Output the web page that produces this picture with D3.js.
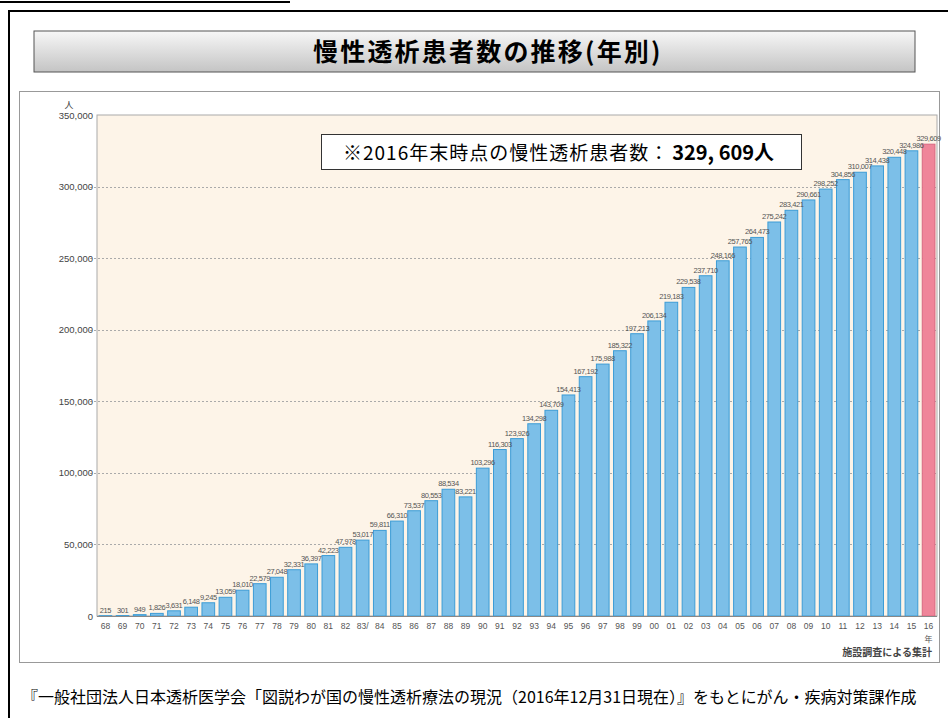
<!DOCTYPE html>
<html><head><meta charset="utf-8">
<script src="https://cdn.jsdelivr.net/npm/d3@7/dist/d3.min.js"></script>
<style>
html,body{margin:0;padding:0;background:#fff;}
svg{display:block;}
</style></head>
<body>
<script>
const years = ["68","69","70","71","72","73","74","75","76","77","78","79","80","81","82","83/","84","85","86","87","88","89","90","91","92","93","94","95","96","97","98","99","00","01","02","03","04","05","06","07","08","09","10","11","12","13","14","15","16"];
const patients = [215,301,949,1826,3631,6148,9245,13059,18010,22579,27048,32331,36397,42223,47978,53017,59811,66310,73537,80553,88534,83221,103296,116303,123926,134298,143709,154413,167192,175988,185322,197213,206134,219183,229538,237710,248166,257765,264473,275242,283421,290661,298252,304856,310007,314438,320448,324986,329609];
const yTicks = [0,50000,100000,150000,200000,250000,300000,350000];
const gridTicks = [50000,100000,150000,200000,250000,300000];
const titleText = "慢性透析患者数の推移(年別)";
const noteText = "※2016年末時点の慢性透析患者数：";
const noteBold = "329, 609人";
const unitText = "人";
const yearUnit = "年";
const sourceText = "施設調査による集計";
const footerText = "『一般社団法人日本透析医学会「図説わが国の慢性透析療法の現況（2016年12月31日現在）』をもとにがん・疾病対策課作成";

const W = 948, H = 718;
const svg = d3.select("body").append("svg").attr("width", W).attr("height", H);
const jp = "'Noto Sans CJK JP','Noto Sans',sans-serif";
const num = "'Liberation Sans',Arial,sans-serif";

const defs = svg.append("defs");
const g1 = defs.append("linearGradient").attr("id","tg").attr("x1",0).attr("y1",0).attr("x2",0).attr("y2",1);
g1.append("stop").attr("offset","0%").attr("stop-color","#f7f7f7");
g1.append("stop").attr("offset","100%").attr("stop-color","#c4c4c4");

// top-left line
svg.append("line").attr("x1",0).attr("x2",290).attr("y1",2).attr("y2",2).attr("stroke","#000").attr("stroke-width",2);
// outer frame
svg.append("rect").attr("x",9).attr("y",11).attr("width",W+20).attr("height",H+20)
  .attr("fill","none").attr("stroke","#000").attr("stroke-width",2);

// title box
svg.append("rect").attr("x",34).attr("y",31).attr("width",881).attr("height",41)
  .attr("fill","url(#tg)").attr("stroke","#555").attr("stroke-width",1);
svg.append("text").attr("x",313).attr("y",61).attr("font-family",jp).attr("font-weight","bold")
  .attr("font-size",25).attr("letter-spacing",2.2).attr("fill","#000").text(titleText);

// panel
svg.append("rect").attr("x",19.5).attr("y",91.5).attr("width",920).attr("height",571)
  .attr("fill","#fff").attr("stroke","#999").attr("stroke-width",1);

const x = d3.scaleBand().domain(years).range([97,937]).paddingInner(0.26).paddingOuter(0.12);
const y = d3.scaleLinear().domain([0,350000]).range([616,115]);

// plot area
svg.append("rect").attr("x",97).attr("y",y(350000)).attr("width",840).attr("height",y(0)-y(350000))
  .attr("fill","#fdf4e8").attr("stroke","#aaa").attr("stroke-width",1);

// grid
svg.append("g").selectAll("line").data(gridTicks).join("line")
  .attr("x1",90).attr("x2",937).attr("y1",d=>Math.round(y(d))+0.5).attr("y2",d=>Math.round(y(d))+0.5)
  .attr("stroke","#aaa").attr("stroke-width",1).attr("stroke-dasharray","2,2");

// y axis
const ya = svg.append("g").attr("transform","translate(93,0)")
  .call(d3.axisLeft(y).tickValues(yTicks).tickSize(0).tickPadding(0).tickFormat(d3.format(",")));
ya.select(".domain").remove();
ya.selectAll("text").attr("font-family",num).attr("font-size",9.5).attr("fill","#444");
svg.append("text").attr("x",69).attr("y",108).attr("font-family",jp).attr("font-size",9).attr("fill","#444").attr("text-anchor","middle").text(unitText);

// bars
svg.append("g").selectAll("rect").data(patients).join("rect")
  .attr("x",(d,i)=>x(years[i])).attr("width",x.bandwidth())
  .attr("y",d=>y(d)).attr("height",d=>y(0)-y(d))
  .attr("fill",(d,i)=>i===patients.length-1?"#ef8599":"#7cbfe8")
  .attr("stroke",(d,i)=>i===patients.length-1?"#d86881":"#3c9cd6").attr("stroke-width",1);

// bar labels
svg.append("g").selectAll("text").data(patients).join("text")
  .attr("x",(d,i)=>x(years[i])+x.bandwidth()/2).attr("y",d=>y(d)-3)
  .attr("text-anchor","middle").attr("font-family",num).attr("font-size",7.5).attr("fill","#555")
  .attr("letter-spacing",-0.4)
  .text(d=>d3.format(",")(d));

// x axis line
svg.append("line").attr("x1",97).attr("x2",937).attr("y1",616.5).attr("y2",616.5).attr("stroke","#888");
const xa = svg.append("g").attr("transform","translate(0,617)")
  .call(d3.axisBottom(x).tickSize(0).tickPadding(6));
xa.select(".domain").remove();
xa.selectAll("text").attr("font-family",num).attr("font-size",8.5).attr("fill","#555");
svg.append("text").attr("x",x("16")+x.bandwidth()/2).attr("y",642).attr("text-anchor","middle")
  .attr("font-family",jp).attr("font-size",8).attr("fill","#555").text(yearUnit);
svg.append("text").attr("x",932).attr("y",656).attr("text-anchor","end")
  .attr("font-family",jp).attr("font-weight","bold").attr("font-size",10).attr("fill","#444").text(sourceText);

// note box
svg.append("rect").attr("x",321.5).attr("y",134.5).attr("width",480).attr("height",35)
  .attr("fill","#fff").attr("stroke","#333").attr("stroke-width",1);
const nt = svg.append("text").attr("x",343).attr("y",160).attr("font-family",jp).attr("font-size",19).attr("fill","#000");
nt.append("tspan").attr("letter-spacing",1).text(noteText);
nt.append("tspan").attr("font-weight","bold").attr("font-size",20).attr("dx",3).text(noteBold);

// footer
svg.append("text").attr("x",22).attr("y",703).attr("font-family",jp).attr("font-size",16).attr("fill","#000").text(footerText);
</script>
</body></html>
